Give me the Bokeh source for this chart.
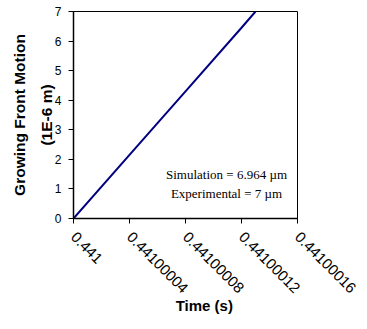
import math
from bokeh.plotting import figure
from bokeh.models import FixedTicker, Label
from bokeh.embed import file_html
from bokeh.resources import INLINE

time_s = [0.441, 0.44100004, 0.44100008, 0.44100012, 0.44100013]
motion = [0.0, 2.15, 4.3, 6.45, 7.0]
x_ticks = [0.441, 0.44100004, 0.44100008, 0.44100012, 0.44100016]
x_tick_labels = ["0.441", "0.44100004", "0.44100008", "0.44100012", "0.44100016"]
y_ticks = [0, 1, 2, 3, 4, 5, 6, 7]

p = figure(width=366, height=320, output_backend="svg", toolbar_location=None,
           x_range=(x_ticks[0], x_ticks[-1]), y_range=(0, 7),
           min_border_left=73, min_border_right=69, min_border_top=11, min_border_bottom=102)
p.grid.visible = False
p.outline_line_color = "black"
p.outline_line_width = 1
p.background_fill_color = "white"
p.border_fill_color = "white"

p.line(time_s, motion, line_color="#000080", line_width=2)

p.xaxis.ticker = FixedTicker(ticks=x_ticks)
p.xaxis.major_label_overrides = {t: l for t, l in zip(x_ticks, x_tick_labels)}
p.xaxis.major_label_orientation = -math.pi / 4
p.yaxis.ticker = FixedTicker(ticks=y_ticks)

for ax in (p.xaxis, p.yaxis):
    ax.axis_line_color = "black"
    ax.axis_line_width = 1.5
    ax.major_tick_line_color = "black"
    ax.major_tick_in = 0
    ax.major_tick_out = 5
    ax.minor_tick_line_color = None
    ax.major_label_text_font = "Liberation Sans"
    ax.major_label_text_color = "black"
    ax.axis_label_text_font = "Liberation Sans"
    ax.axis_label_text_font_style = "bold"
    ax.axis_label_text_color = "black"

p.xaxis.major_label_text_font_size = "15px"
p.yaxis.major_label_text_font_size = "12px"
p.xaxis.axis_label_text_font_size = "15px"
p.yaxis.axis_label_text_font_size = "15.5px"
p.yaxis.axis_label_text_line_height = 1.6
p.xaxis.axis_label = "\u00a0\u00a0\u00a0\u00a0\u00a0\u00a0\u00a0\u00a0\u00a0Time (s)"
p.yaxis.axis_label = "Growing Front Motion\n(1E-6 m)"
p.xaxis.major_label_standoff = 11
p.yaxis.major_label_standoff = 7
p.xaxis.axis_label_standoff = -4
p.yaxis.axis_label_standoff = -3

p.add_layout(Label(x=0.44100010929, y=1.5, text="Simulation = 6.964 \u00b5m",
                   text_font="Liberation Serif", text_font_size="13px",
                   text_align="center", text_baseline="middle", text_color="black"))
p.add_layout(Label(x=0.44100010929, y=0.85, text="Experimental = 7 \u00b5m",
                   text_font="Liberation Serif", text_font_size="13px",
                   text_align="center", text_baseline="middle", text_color="black"))

open("out.html", "w").write(file_html(p, INLINE))
